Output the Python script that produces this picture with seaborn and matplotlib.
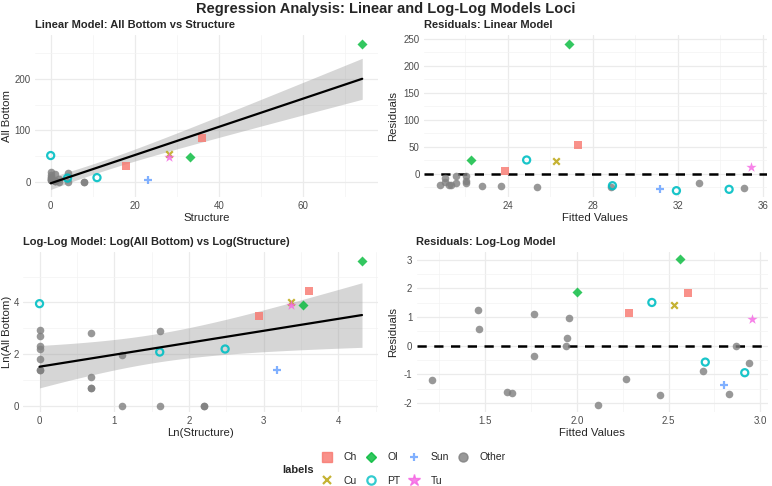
import numpy as np
import pandas as pd
import seaborn as sns
import matplotlib.pyplot as plt
import matplotlib.ticker as ticker
import matplotlib.transforms as mtransforms
from matplotlib.lines import Line2D

# sites: structure count vs all-bottom count (last three sit under other grey points)
labels = ['Ch', 'Ch', 'Cu', 'Ol', 'Ol', 'PT', 'PT', 'PT', 'Sun', 'Tu'] + ['Other'] * 17
structure = [18, 36, 28, 74, 33, 0, 4, 11, 23, 28,
             0, 0, 0, 0, 0, 0, 1, 1, 1, 2, 2, 4, 4, 8,
             8, 0, 1]
all_bottom = [31, 85, 54, 269, 49, 51, 7, 8, 3, 48,
              18, 14, 9, 8, 5, 3, 16, 2, 1, 6, 0, 17, 0, 0,
              0, 3, 1]

# residuals of the linear model
lin_labels = ['Ch', 'Ch', 'Cu', 'Ol', 'Ol', 'PT', 'PT', 'PT', 'PT', 'Sun', 'Tu'] + ['Other'] * 16
lin_fitted = [23.87, 27.31, 26.29, 26.87, 22.27, 24.89, 28.93, 31.94, 34.42, 31.18, 35.45,
              20.8, 21.05, 21.05, 21.25, 21.35, 21.55, 21.55, 22.05, 22.05, 22.05,
              22.8, 23.7, 25.4, 28.85, 33.0, 35.1]
lin_resid = [5.6, 53.8, 24.1, 240.6, 25.4, 25.4, -22.3, -31.5, -29, -29, 11.8,
             -21, -8, -15, -21.5, -21.5, -4, -18, -4, -14, -17,
             -23, -22, -24, -24, -17, -26]

# residuals of the log-log model
log_labels = ['Ch', 'Ch', 'Cu', 'Ol', 'Ol', 'PT', 'PT', 'PT', 'Sun', 'Tu'] + ['Other'] * 17
log_fitted = [2.287, 2.604, 2.527, 2.565, 2.0, 2.409, 2.70, 2.915, 2.80, 2.955,
              1.213, 1.46, 1.465, 1.622, 1.649, 1.765, 1.765, 1.944, 1.949, 1.956,
              2.113, 2.267, 2.456, 2.69, 2.831, 2.869, 2.94]
log_resid = [1.14, 1.83, 1.42, 3.01, 1.87, 1.51, -0.57, -0.94, -1.37, 0.92,
             -1.21, 1.23, 0.60, -1.60, -1.64, -0.37, 1.10, 0.0, 0.26, 0.98,
             -2.08, -1.15, -1.73, -0.87, -1.69, -0.01, -0.60]

order = ['Ch', 'Cu', 'Ol', 'PT', 'Sun', 'Tu', 'Other']
colour = {'Ch': '#F8766D', 'Cu': '#B79F00', 'Ol': '#00BA38', 'PT': '#00BFC4',
          'Sun': '#619CFF', 'Tu': '#F564E3', 'Other': '#7F7F7F'}
marker = {'Ch': 's', 'Cu': 'x', 'Ol': 'D', 'PT': 'o', 'Sun': '+', 'Tu': '*', 'Other': 'o'}
size = {'Ch': 38, 'Cu': 22, 'Ol': 26, 'PT': 26, 'Sun': 38, 'Tu': 60, 'Other': 30}
T95 = 2.06  # t quantile for the 95% band

sns.set_theme(style="white")
plt.rcParams['font.family'] = ['Liberation Sans', 'DejaVu Sans']
plt.rcParams['axes.unicode_minus'] = False

df = pd.DataFrame({'labels': labels, 'structure': structure, 'all_bottom': all_bottom})
df['ln_structure'] = np.log1p(df['structure'])
df['ln_all_bottom'] = np.log1p(df['all_bottom'])
df_lin = pd.DataFrame({'labels': lin_labels, 'fitted': lin_fitted, 'resid': lin_resid})
df_log = pd.DataFrame({'labels': log_labels, 'fitted': log_fitted, 'resid': log_resid})


def points(ax, data, x, y):
    for lab in ['Other'] + order[:-1]:
        sub = data[data['labels'] == lab]
        kw = dict(color=colour[lab], marker=marker[lab], s=size[lab], alpha=0.8, zorder=3)
        if lab == 'PT':
            kw.update(facecolor='none', edgecolor=colour[lab], linewidth=1.6, alpha=0.9)
        elif marker[lab] in ('x', '+'):
            kw.update(linewidth=1.6)
        else:
            kw.update(linewidth=0)
        sns.scatterplot(data=sub, x=x, y=y, ax=ax, legend=False, **kw)


def fit(ax, data, x, y):
    # least squares line from seaborn, 95% confidence band of the mean
    sns.regplot(data=data, x=x, y=y, ax=ax, scatter=False, ci=None, color='black',
                line_kws={'lw': 1.6, 'zorder': 4})
    xv = data[x].to_numpy(float)
    yv = data[y].to_numpy(float)
    b, a = np.polyfit(xv, yv, 1)
    n = len(xv)
    s = np.sqrt(np.sum((yv - a - b * xv) ** 2) / (n - 2))
    grid = np.linspace(xv.min(), xv.max(), 100)
    se = s * np.sqrt(1 / n + (grid - xv.mean()) ** 2 / np.sum((xv - xv.mean()) ** 2))
    pred = a + b * grid
    ax.fill_between(grid, pred - T95 * se, pred + T95 * se, color='#999999',
                    alpha=0.4, lw=0, zorder=1)


def style(ax, xlim, ylim, xstep, ystep, title, xlabel, ylabel, ylab_x):
    ax.set_xlim(xlim)
    ax.set_ylim(ylim)
    ax.xaxis.set_major_locator(ticker.MultipleLocator(xstep))
    ax.yaxis.set_major_locator(ticker.MultipleLocator(ystep))
    ax.xaxis.set_minor_locator(ticker.AutoMinorLocator(2))
    ax.yaxis.set_minor_locator(ticker.AutoMinorLocator(2))
    ax.set_axisbelow(True)
    ax.grid(which='major', color='#EBEBEB', lw=0.9)
    ax.grid(which='minor', color='#F3F3F3', lw=0.5)
    ax.tick_params(which='both', length=0, labelsize=7, labelcolor='#4D4D4D', pad=3)
    for s in ax.spines.values():
        s.set_visible(False)
    ax.set_title(title, loc='left', fontsize=8, fontweight='bold', pad=5)
    ax.set_xlabel(xlabel, fontsize=8.2, labelpad=1.5)
    ax.set_ylabel(ylabel, fontsize=8.2)
    # ylab_x is the right edge of the rotated label, in pixels
    ax.yaxis.set_label_coords(ylab_x / W, 0.5,
                              transform=mtransforms.blended_transform_factory(fig.transFigure, ax.transAxes))


W, H = 772, 486
fig = plt.figure(figsize=(W / 100, H / 100), dpi=100)


def box(l, r, t, b):
    return [l / W, 1 - b / H, (r - l) / W, (b - t) / H]


ax1 = fig.add_axes(box(35.1, 377.8, 35, 197))
ax2 = fig.add_axes(box(423.8, 766.5, 35, 197))
ax3 = fig.add_axes(box(23.4, 378.1, 252, 412))
ax4 = fig.add_axes(box(416.5, 767.7, 252, 412))

points(ax1, df, 'structure', 'all_bottom')
fit(ax1, df, 'structure', 'all_bottom')
style(ax1, (-3.7, 77.7), (-29.8, 286), 20, 100,
      'Linear Model: All Bottom vs Structure', 'Structure', 'All Bottom', 12)

points(ax2, df_lin, 'fitted', 'resid')
ax2.axhline(0, color='black', lw=1.8, ls=(0, (3.7, 3.0)), zorder=2)
style(ax2, (20.05, 36.18), (-43.2, 257), 4, 50,
      'Residuals: Linear Model', 'Fitted Values', 'Residuals', 398)

points(ax3, df, 'ln_structure', 'ln_all_bottom')
fit(ax3, df, 'ln_structure', 'ln_all_bottom')
style(ax3, (-0.216, 4.533), (-0.24, 5.95), 1, 2,
      'Log-Log Model: Log(All Bottom) vs Log(Structure)', 'Ln(Structure)', 'Ln(All Bottom)', 12)

points(ax4, df_log, 'fitted', 'resid')
ax4.axhline(0, color='black', lw=1.8, ls=(0, (3.7, 3.0)), zorder=2)
style(ax4, (1.127, 3.04), (-2.31, 3.27), 0.5, 1,
      'Residuals: Log-Log Model', 'Fitted Values', 'Residuals', 398)
ax4.xaxis.set_major_formatter(ticker.FormatStrFormatter('%.1f'))

fig.text(0.5, 1 - 8.5 / H, 'Regression Analysis: Linear and Log-Log Models Loci',
         ha='center', va='center', fontsize=10.5, fontweight='bold')

handles = []
for lab in order:
    kw = dict(marker=marker[lab], linestyle='none', color=colour[lab], alpha=0.8)
    if lab == 'PT':
        kw.update(markerfacecolor='none', markeredgewidth=1.6, markersize=6)
    elif marker[lab] in ('x', '+'):
        kw.update(markeredgewidth=1.6, markersize=6)
    elif lab == 'Tu':
        kw.update(markersize=9)
    elif lab == 'Ol':
        kw.update(markersize=5.5)
    else:
        kw.update(markersize=6.5)
    handles.append(Line2D([], [], label=lab, **kw))

fig.legend(handles=handles, ncol=4, loc='center left', frameon=False,
           bbox_to_anchor=(322 / W, 1 - 469 / H), borderaxespad=0, borderpad=0,
           fontsize=7.5, handlelength=1.0, handletextpad=1.1, columnspacing=0.8,
           labelspacing=1.25)
fig.text(282 / W, 1 - 470 / H, 'labels', ha='left', va='center', fontsize=8, fontweight='bold')

fig.savefig('out.png', dpi=100)
